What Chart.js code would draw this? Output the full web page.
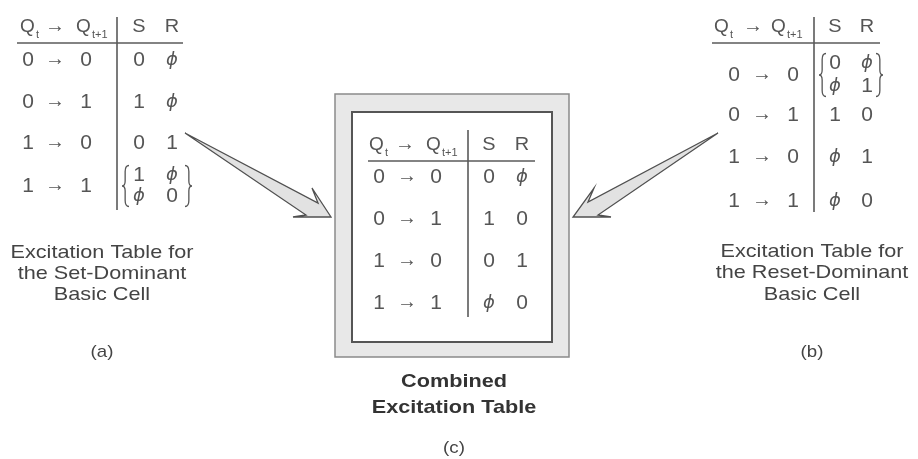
<!DOCTYPE html>
<html lang="en">
<head>
    <meta charset="UTF-8">
    <title>Excitation Tables</title>
    <script src="https://cdn.jsdelivr.net/npm/chart.js"></script>
    <style>
        html, body { margin: 0; padding: 0; background: #ffffff; }
        #wrap { width: 918px; height: 459px; }
    </style>
</head>
<body>
    <div id="wrap">
        <canvas id="diagram" width="918" height="459"></canvas>
    </div>

    <script>
        // table contents
        const qNow = ['0', '0', '1', '1'];
        const qNext = ['0', '1', '0', '1'];
        const setDominantS = [['0'], ['1'], ['0'], ['1', 'ϕ']];
        const setDominantR = [['ϕ'], ['ϕ'], ['1'], ['ϕ', '0']];
        const resetDominantS = [['0', 'ϕ'], ['1'], ['ϕ'], ['ϕ']];
        const resetDominantR = [['ϕ', '1'], ['0'], ['1'], ['0']];
        const combinedS = [['0'], ['1'], ['0'], ['ϕ']];
        const combinedR = [['ϕ'], ['0'], ['1'], ['0']];
        const headerS = 'S';
        const headerR = 'R';

        const captionA = ['Excitation Table for', 'the Set-Dominant', 'Basic Cell'];
        const captionB = ['Excitation Table for', 'the Reset-Dominant', 'Basic Cell'];
        const captionC = ['Combined', 'Excitation Table'];
        const tags = ['(a)', '(b)', '(c)'];

        const textColor = '#555555';
        const ruleColor = '#5a5a5a';
        const captionColor = '#444444';
        const FONT = "'Liberation Sans', Arial, sans-serif";
        const PHI_FONT = "'DejaVu Sans', sans-serif";

        // layout, in the coordinate system of the hidden axes
        const tableLayout = [
            { S: setDominantS, R: setDominantR,
              cols: [28, 55, 86, 139, 172], qx: 20, headArrow: 55, q2x: 76,
              headY: 27, ruleY: 43, ruleX: [17, 183], vx: 117, vy: [17, 210],
              rows: [60, 102, 143, 186], gap: 10.5, braceX: [122, 192] },
            { S: resetDominantS, R: resetDominantR,
              cols: [734, 762, 793, 835, 867], qx: 714, headArrow: 753, q2x: 771,
              headY: 27, ruleY: 43, ruleX: [712, 880], vx: 814, vy: [17, 212],
              rows: [75, 115, 157, 201], gap: 11.5, braceX: [819, 883] },
            { S: combinedS, R: combinedR,
              cols: [379, 407, 436, 489, 522], qx: 369, headArrow: 405, q2x: 426,
              headY: 145, ruleY: 161, ruleX: [368, 535], vx: 468, vy: [130, 317],
              rows: [177, 219, 261, 303], gap: 11, braceX: [0, 0] }
        ];

        const captionLayout = [
            { lines: captionA, x: 102, y: [253, 274, 295], tagY: 352, bold: false },
            { lines: captionB, x: 812, y: [252, 273, 295], tagY: 352, bold: false },
            { lines: captionC, x: 454, y: [382, 408], tagY: 448, bold: true }
        ];

        const frameOuter = [335, 94, 569, 357];
        const frameInner = [352, 112, 552, 342];

        const arrowShapes = [
            [[185, 133], [318, 203], [312, 188], [331, 217], [293, 217], [306, 215]],
            [[718, 133], [588, 202], [594, 188], [573, 217], [611, 217], [598, 215]]
        ];

        const diagramPlugin = {
            id: 'diagram',
            afterDraw(chart) {
                const ctx = chart.ctx;
                const xs = chart.scales.x, ys = chart.scales.y;
                const X = v => xs.getPixelForValue(v);
                const Y = v => ys.getPixelForValue(v);

                function text(str, x, y, font, color, align, sx) {
                    ctx.save();
                    ctx.translate(X(x), Y(y));
                    ctx.scale(sx || 1, 1);
                    ctx.font = font;
                    ctx.fillStyle = color;
                    ctx.textAlign = align || 'center';
                    ctx.textBaseline = 'middle';
                    ctx.fillText(str, 0, 0);
                    ctx.restore();
                }

                function cell(str, x, y) {
                    if (str === 'ϕ') {
                        text(str, x, y, 'italic 18px ' + PHI_FONT, textColor, 'center', 1);
                    } else {
                        text(str, x, y, '20px ' + FONT, textColor, 'center', 1.05);
                    }
                }

                function line(x0, y0, x1, y1, w, color) {
                    ctx.beginPath();
                    ctx.moveTo(X(x0), Y(y0));
                    ctx.lineTo(X(x1), Y(y1));
                    ctx.lineWidth = w;
                    ctx.strokeStyle = color;
                    ctx.stroke();
                }

                function brace(x, y0, y1, s) {
                    const m = (y0 + y1) / 2;
                    const w = 7;
                    ctx.beginPath();
                    ctx.moveTo(X(x + s * w), Y(y0));
                    ctx.quadraticCurveTo(X(x + s * w * 0.45), Y(y0), X(x + s * w * 0.45), Y(y0 + 6));
                    ctx.lineTo(X(x + s * w * 0.45), Y(m - 5));
                    ctx.quadraticCurveTo(X(x + s * w * 0.45), Y(m), X(x), Y(m));
                    ctx.quadraticCurveTo(X(x + s * w * 0.45), Y(m), X(x + s * w * 0.45), Y(m + 5));
                    ctx.lineTo(X(x + s * w * 0.45), Y(y1 - 6));
                    ctx.quadraticCurveTo(X(x + s * w * 0.45), Y(y1), X(x + s * w), Y(y1));
                    ctx.lineWidth = 1.3;
                    ctx.strokeStyle = textColor;
                    ctx.stroke();
                }

                // centre frame
                const [ox0, oy0, ox1, oy1] = frameOuter;
                const [ix0, iy0, ix1, iy1] = frameInner;
                ctx.fillStyle = '#e8e8e8';
                ctx.fillRect(X(ox0), Y(oy0), X(ox1) - X(ox0), Y(oy1) - Y(oy0));
                ctx.fillStyle = '#ffffff';
                ctx.fillRect(X(ix0), Y(iy0), X(ix1) - X(ix0), Y(iy1) - Y(iy0));
                ctx.lineWidth = 1.5;
                ctx.strokeStyle = '#8a8a8a';
                ctx.strokeRect(X(ox0), Y(oy0), X(ox1) - X(ox0), Y(oy1) - Y(oy0));
                ctx.lineWidth = 2;
                ctx.strokeStyle = '#555555';
                ctx.strokeRect(X(ix0), Y(iy0), X(ix1) - X(ix0), Y(iy1) - Y(iy0));

                // arrows
                arrowShapes.forEach(pts => {
                    ctx.beginPath();
                    pts.forEach((p, i) => i ? ctx.lineTo(X(p[0]), Y(p[1])) : ctx.moveTo(X(p[0]), Y(p[1])));
                    ctx.closePath();
                    ctx.fillStyle = '#e2e2e2';
                    ctx.fill();
                    ctx.lineWidth = 1.3;
                    ctx.lineJoin = 'miter';
                    ctx.strokeStyle = '#505050';
                    ctx.stroke();
                });

                // tables
                tableLayout.forEach(t => {
                    const hf = '19px ' + FONT;
                    text('Q', t.qx, t.headY, hf, textColor, 'left', 1.0);
                    text('t', t.qx + 16, t.headY + 8, '11px ' + FONT, textColor, 'left', 1);
                    text('→', t.headArrow, t.headY - 1, '20px ' + FONT, textColor, 'center', 1);
                    text('Q', t.q2x, t.headY, hf, textColor, 'left', 1.0);
                    text('t+1', t.q2x + 16, t.headY + 8, '11px ' + FONT, textColor, 'left', 1);
                    text(headerS, t.cols[3], t.headY, hf, textColor, 'center', 1.05);
                    text(headerR, t.cols[4], t.headY, hf, textColor, 'center', 1.05);

                    line(t.ruleX[0], t.ruleY, t.ruleX[1], t.ruleY, 1.6, ruleColor);
                    line(t.vx, t.vy[0], t.vx, t.vy[1], 1.6, ruleColor);

                    t.rows.forEach((ry, i) => {
                        cell(qNow[i], t.cols[0], ry);
                        text('→', t.cols[1], ry - 1, '20px ' + FONT, textColor, 'center', 1);
                        cell(qNext[i], t.cols[2], ry);
                        const sv = t.S[i], rv = t.R[i];
                        if (sv.length === 2) {
                            cell(sv[0], t.cols[3], ry - t.gap);
                            cell(sv[1], t.cols[3], ry + t.gap);
                            cell(rv[0], t.cols[4], ry - t.gap);
                            cell(rv[1], t.cols[4], ry + t.gap);
                            brace(t.braceX[0], ry - t.gap - 10, ry + t.gap + 10, 1);
                            brace(t.braceX[1], ry - t.gap - 10, ry + t.gap + 10, -1);
                        } else {
                            cell(sv[0], t.cols[3], ry);
                            cell(rv[0], t.cols[4], ry);
                        }
                    });
                });

                // captions
                captionLayout.forEach((c, k) => {
                    const f = c.bold ? 'bold 19px ' + FONT : '19px ' + FONT;
                    const col = c.bold ? '#333333' : captionColor;
                    c.lines.forEach((ln, i) => text(ln, c.x, c.y[i], f, col, 'center', 1.14));
                    text(tags[k], c.x, c.tagY, '17px ' + FONT, captionColor, 'center', 1.1);
                });
            }
        };

        const ctx = document.getElementById('diagram').getContext('2d');
        new Chart(ctx, {
            type: 'scatter',
            data: { datasets: [] },
            options: {
                responsive: false,
                animation: false,
                layout: { padding: 0 },
                scales: {
                    x: { type: 'linear', min: 0, max: 918, display: false },
                    y: { type: 'linear', min: 0, max: 459, reverse: true, display: false }
                },
                plugins: {
                    legend: { display: false },
                    tooltip: { enabled: false }
                }
            },
            plugins: [diagramPlugin]
        });
    </script>
</body>
</html>
